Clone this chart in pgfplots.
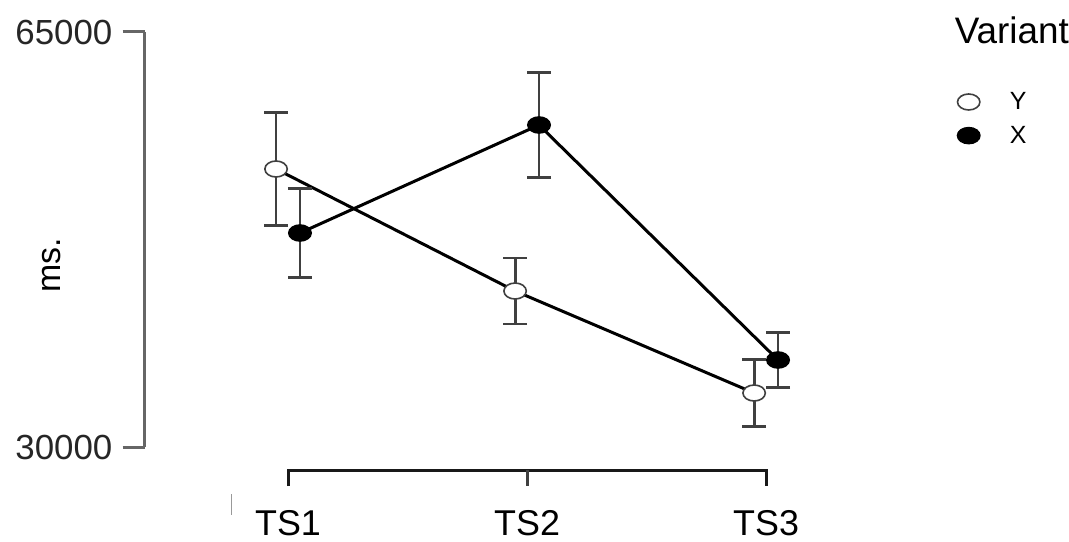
\documentclass[border=0pt]{standalone}
\usepackage{fontspec}
\setmainfont{Liberation Sans}
\usepackage{pgfplots}
\pgfplotsset{compat=1.18}

\begin{document}
\begin{tikzpicture}
\useasboundingbox (-144.6bp,-95bp) rectangle (924.4bp,447bp);
\begin{axis}[
    at={(0,0)}, anchor=south west,
    scale only axis,
    width=741bp, height=415bp,
    xmin=0.4, xmax=3.5,
    ymin=30000, ymax=65000,
    clip=false,
    axis x line=none,
    axis y line*=left,
    y axis line style={black!60, line width=3bp},
    ytick={30000,65000},
    y tick style={black!60, line width=3bp},
    tick align=outside,
    major tick length=22bp,
    scaled y ticks=false,
    /pgf/number format/assume math mode=true,
    yticklabel style={/pgf/number format/1000 sep={}, font=\fontsize{35}{38}\selectfont, text=black!85, inner sep=0pt, xshift=-10bp},
    legend style={at={(axis cs:3.8,59900)}, anchor=north west, draw=none, fill=none,
        inner sep=0pt, row sep=15bp, column sep=30bp,
        font=\fontsize{25}{28}\selectfont, nodes={inner sep=0pt}},
    legend cell align=left,
    legend image code/.code={\draw[#1] plot coordinates {(11bp,0bp)};},
]
% Y
\addplot[black, line width=3bp, mark=*, mark size=8bp,
    mark options={xscale=1.4, fill=white, draw=black!75, line width=1.6bp},
    error bars/.cd, y dir=both, y explicit,
    error bar style={black!75, line width=2.8bp},
    error mark options={rotate=90, black!75, line width=2.8bp, mark size=12bp}]
    coordinates {
    (0.95,53446) +- (0,4765)
    (1.95,43156) +- (0,2785)
    (2.95,34554) +- (0,2825)
    };
% X
\addplot[black, line width=3bp, mark=*, mark size=8bp,
    mark options={xscale=1.4, fill=black, draw=black, line width=1.6bp},
    error bars/.cd, y dir=both, y explicit,
    error bar style={black!75, line width=2.8bp},
    error mark options={rotate=90, black!75, line width=2.8bp, mark size=12bp}]
    coordinates {
    (1.05,48048) +- (0,3750)
    (2.05,57157) +- (0,4430)
    (3.05,37337) +- (0,2320)
    };
\addlegendimage{only marks, mark=*, mark size=8bp, mark options={xscale=1.4, fill=white, draw=black!55, line width=1.8bp}}
\addlegendentry{Y}
\addlegendimage{only marks, mark=*, mark size=8bp, mark options={xscale=1.4, fill=black, draw=black}}
\addlegendentry{X}
% x axis line with ticks
\draw[black!90, line width=3bp] (axis cs:1,26711) -- (axis cs:1,28060) -- (axis cs:3,28060) -- (axis cs:3,26711);
\draw[black!75, line width=3bp] (axis cs:2,28060) -- (axis cs:2,26711);
\draw[black!40, line width=0.8bp] (axis cs:0.764,26036) -- (axis cs:0.764,24265);
\node[anchor=base, inner sep=0pt, font=\fontsize{36}{40}\selectfont] at (axis cs:1,22500) {TS1};
\node[anchor=base, inner sep=0pt, font=\fontsize{36}{40}\selectfont] at (axis cs:2,22500) {TS2};
\node[anchor=base, inner sep=0pt, font=\fontsize{36}{40}\selectfont] at (axis cs:3,22500) {TS3};
\node[rotate=90, font=\fontsize{34}{38}\selectfont] at (axis cs:0.0126,45300) {ms.};
\node[anchor=base west, font=\fontsize{37}{40}\selectfont] at (axis cs:3.775,64072) {Variant};
\end{axis}
\end{tikzpicture}
\end{document}
